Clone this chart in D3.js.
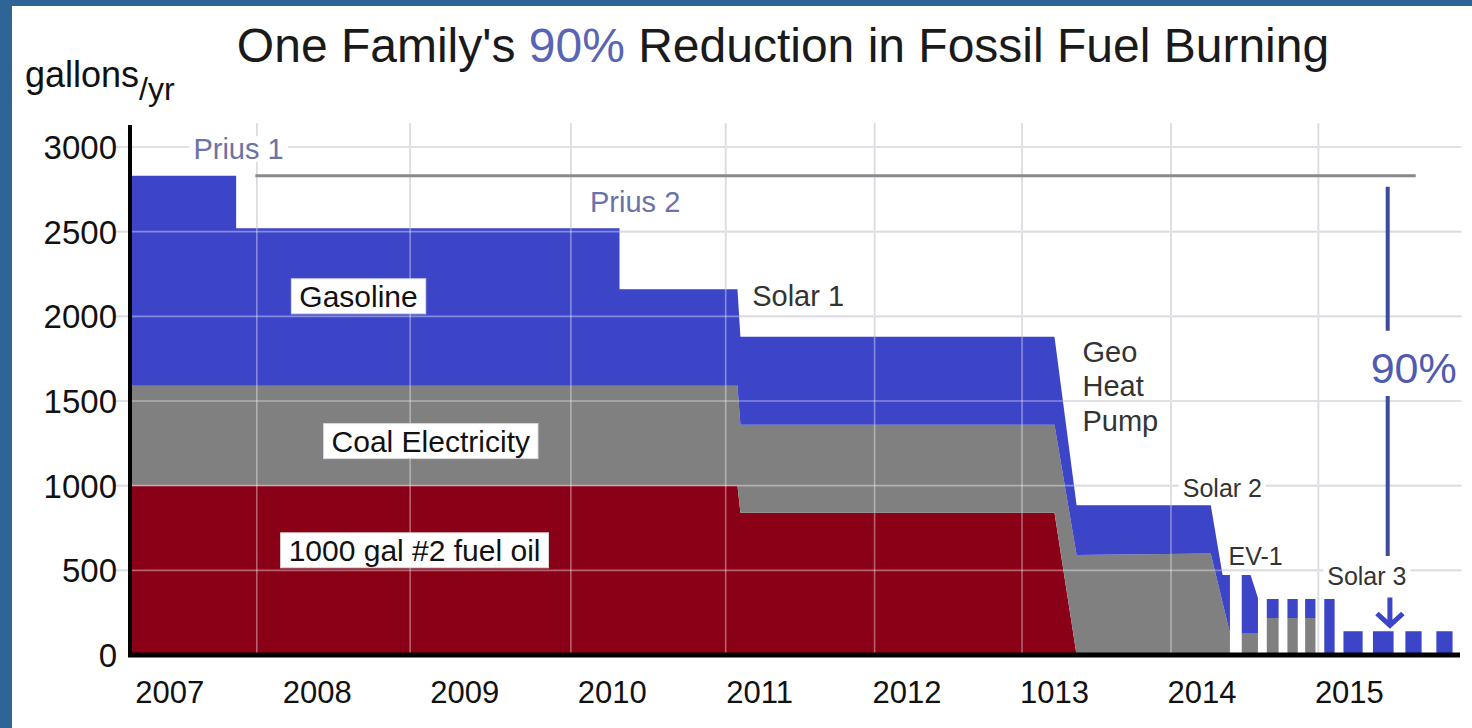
<!DOCTYPE html>
<html>
<head>
<meta charset="utf-8">
<script src="https://cdn.jsdelivr.net/npm/d3@7"></script>
<style>
  body { margin: 0; background: #fff; }
  svg { display: block; }
  text { font-family: "Liberation Sans", Arial, sans-serif; }
</style>
</head>
<body>
<div id="chart"></div>
<script>
// gallons per year; null time = a break between bars
const times = [
  2007.0, 2007.72, 2007.72, 2010.32, 2010.32, 2011.12, 2011.14, 2013.27, 2013.42,
  2014.33, 2014.41, 2014.46, null,
  2014.54, 2014.6, 2014.65, null,
  2014.71, 2014.79, null, 2014.85, 2014.92, null, 2014.97, 2015.04, null,
  2015.1, 2015.17, null,
  2015.23, 2015.36, null, 2015.43, 2015.57, null, 2015.65, 2015.76, null,
  2015.86, 2015.97,
];
const fuelOil = [
  1000, 1000, 1000, 1000, 1000, 1000, 840, 840, 0,
  0, 0, 0, null,
  0, 0, 0, null,
  0, 0, null, 0, 0, null, 0, 0, null,
  0, 0, null,
  0, 0, null, 0, 0, null, 0, 0, null,
  0, 0,
];
const coalElec = [
  590, 590, 590, 590, 590, 590, 520, 520, 590,
  600, 310, 130, null,
  130, 130, 130, null,
  218, 218, null, 218, 218, null, 218, 218, null,
  0, 0, null,
  0, 0, null, 0, 0, null, 0, 0, null,
  0, 0,
];
const gasoline = [
  1240, 1240, 930, 930, 570, 570, 520, 520, 295,
  285, 162, 342, null,
  342, 342, 206, null,
  112, 112, null, 112, 112, null, 112, 112, null,
  330, 330, null,
  140, 140, null, 140, 140, null, 140, 140, null,
  140, 140,
];

const seriesKeys = ["oil", "coal", "gas"];
const seriesColors = ["#8a0016", "#808080", "#3c44c8"];

const yTicks = [0, 500, 1000, 1500, 2000, 2500, 3000];
const yearTicks = [2007, 2008, 2009, 2010, 2011, 2012, 2013, 2014, 2015];
const yearLabels = ["2007", "2008", "2009", "2010", "2011", "2012", "1013", "2014", "2015"];
const gridYears = [2007.86, 2008.9, 2009.99, 2011.04, 2012.05, 2013.05, 2014.06, 2015.06];

// the 90% bracket: reference level and the span it covers
const refLevel = 2830;
const refStart = 2007.85;
const refEnd = 2015.72;

const notes = [
  { text: "Prius 1", t: 2007.43, v: 2990, size: 29, color: "#6a72a8" },
  { text: "Prius 2", t: 2010.12, v: 2680, size: 29, color: "#6a72a8" },
  { text: "Solar 1", t: 2011.22, v: 2120, size: 29, color: "#333" },
  { text: "Geo", t: 2013.46, v: 1790, size: 29, color: "#333" },
  { text: "Heat", t: 2013.46, v: 1590, size: 29, color: "#333" },
  { text: "Pump", t: 2013.46, v: 1385, size: 29, color: "#333" },
  { text: "Solar 2", t: 2014.14, v: 985, size: 25, color: "#333" },
  { text: "EV-1", t: 2014.45, v: 585, size: 25, color: "#333" },
  { text: "Solar 3", t: 2015.12, v: 467, size: 25, color: "#333" },
];
const boxes = [
  { text: "Gasoline", t: 2008.55, v: 2120 },
  { text: "Coal Electricity", t: 2009.04, v: 1265 },
  { text: "1000 gal #2 fuel oil", t: 2008.93, v: 620 },
];

let width = 1472;
let height = 728;
let svg, x, y;

window.onload = init;

function init() {
  svg = d3
    .select("#chart")
    .append("svg")
    .attr("width", width)
    .attr("height", height);

  svg.append("rect").attr("width", width).attr("height", height).attr("fill", "#fff");
  // blue frame on the left and top edges
  svg.append("rect").attr("width", 12).attr("height", height).attr("fill", "#2f6497");
  svg.append("rect").attr("width", width).attr("height", 6).attr("fill", "#2f6497");

  x = d3.scaleLinear().domain([2007, 2016]).range([130, 1457]);
  y = d3.scaleLinear().domain([0, 3000]).range([655, 147]);

  drawGrid("#c6c6cf", 1);

  const rows = times.map((t, i) => ({
    t: t,
    gap: t === null,
    oil: fuelOil[i] || 0,
    coal: coalElec[i] || 0,
    gas: gasoline[i] || 0,
  }));
  const stacked = d3.stack().keys(seriesKeys)(rows);
  const area = d3
    .area()
    .defined((d) => !d.data.gap)
    .x((d) => x(d.data.t))
    .y0((d) => y(d[0]))
    .y1((d) => y(d[1]));

  svg
    .append("g")
    .selectAll("path")
    .data(stacked)
    .enter()
    .append("path")
    .attr("d", area)
    .attr("fill", (d, i) => seriesColors[i]);

  // grid shows faintly through the coloured layers
  drawGrid("#ffffff", 0.38);

  // axes
  svg
    .append("line")
    .attr("x1", x(2007))
    .attr("x2", x(2007))
    .attr("y1", y(3130))
    .attr("y2", y(0) + 2)
    .attr("stroke", "#000")
    .attr("stroke-width", 4);
  svg
    .append("line")
    .attr("x1", x(2007) - 2)
    .attr("x2", x(2016) + 3)
    .attr("y1", y(0))
    .attr("y2", y(0))
    .attr("stroke", "#000")
    .attr("stroke-width", 5);

  svg
    .append("g")
    .selectAll("text")
    .data(yTicks)
    .enter()
    .append("text")
    .attr("x", x(2007) - 13)
    .attr("y", (d) => y(d))
    .attr("dy", "0.36em")
    .attr("text-anchor", "end")
    .attr("font-size", 33)
    .attr("fill", "#111")
    .text((d) => d);

  svg
    .append("g")
    .selectAll("text")
    .data(yearTicks)
    .enter()
    .append("text")
    .attr("x", (d) => x(d + 0.27))
    .attr("y", 692)
    .attr("dy", "0.36em")
    .attr("text-anchor", "middle")
    .attr("font-size", 31)
    .attr("fill", "#111")
    .text((d, i) => yearLabels[i]);

  // title and unit
  const title = svg
    .append("text")
    .attr("x", 783)
    .attr("y", 62)
    .attr("text-anchor", "middle")
    .attr("font-size", 48)
    .attr("fill", "#1a1a1a");
  title.append("tspan").text("One Family's ");
  title.append("tspan").attr("fill", "#5a64b4").text("90%");
  title.append("tspan").text(" Reduction in Fossil Fuel Burning");

  const unit = svg
    .append("text")
    .attr("x", 25)
    .attr("y", 87)
    .attr("font-size", 36)
    .attr("fill", "#111");
  unit.append("tspan").text("gallons");
  unit.append("tspan").attr("dy", 13).attr("font-size", 32).text("/yr");

  // reference line at the 2007 level
  svg
    .append("line")
    .attr("x1", x(refStart))
    .attr("x2", x(refEnd))
    .attr("y1", y(refLevel))
    .attr("y2", y(refLevel))
    .attr("stroke", "#8a8a8e")
    .attr("stroke-width", 3);

  // 90% drop marker
  const mx = x(2015.53);
  svg
    .append("line")
    .attr("x1", mx)
    .attr("x2", mx)
    .attr("y1", y(2765))
    .attr("y2", y(1915))
    .attr("stroke", "#3d4aa0")
    .attr("stroke-width", 4);
  svg
    .append("line")
    .attr("x1", mx)
    .attr("x2", mx)
    .attr("y1", y(1530))
    .attr("y2", y(585))
    .attr("stroke", "#3d4aa0")
    .attr("stroke-width", 4);
  svg
    .append("text")
    .attr("x", mx + 26)
    .attr("y", y(1700))
    .attr("dy", "0.36em")
    .attr("text-anchor", "middle")
    .attr("font-size", 43)
    .attr("fill", "#4f5ab0")
    .text("90%");

  // Solar 3 arrow
  const ax = x(2015.545);
  svg
    .append("path")
    .attr(
      "d",
      `M${ax},${y(340)} L${ax},${y(175)} M${ax - 13},${y(245)} L${ax},${y(175)} L${ax + 13},${y(245)}`,
    )
    .attr("fill", "none")
    .attr("stroke", "#3c44c8")
    .attr("stroke-width", 5);

  // plain annotations with a white backing that breaks the grid
  notes.forEach((n) => {
    const t = svg
      .append("text")
      .attr("x", x(n.t))
      .attr("y", y(n.v))
      .attr("dy", "0.36em")
      .attr("font-size", n.size)
      .attr("fill", n.color)
      .text(n.text);
    const b = t.node().getBBox();
    svg
      .insert("rect", () => t.node())
      .attr("x", b.x - 4)
      .attr("y", b.y + 3)
      .attr("width", b.width + 8)
      .attr("height", b.height - 6)
      .attr("fill", "#fff");
  });

  // boxed layer names
  boxes.forEach((n) => {
    const t = svg
      .append("text")
      .attr("x", x(n.t))
      .attr("y", y(n.v))
      .attr("dy", "0.36em")
      .attr("text-anchor", "middle")
      .attr("font-size", 30)
      .attr("fill", "#111")
      .text(n.text);
    const b = t.node().getBBox();
    svg
      .insert("rect", () => t.node())
      .attr("x", b.x - 8)
      .attr("y", b.y - 1)
      .attr("width", b.width + 16)
      .attr("height", b.height + 2)
      .attr("fill", "#fff")
      .attr("stroke", "#d8d8d8")
      .attr("stroke-width", 1);
  });
}

function drawGrid(color, opacity) {
  const grid = svg.append("g").attr("stroke", color).attr("stroke-opacity", opacity);
  grid
    .selectAll(".h")
    .data(yTicks.filter((d) => d > 0))
    .enter()
    .append("line")
    .attr("x1", x(2007) - 15)
    .attr("x2", x(2016.03))
    .attr("y1", (d) => y(d))
    .attr("y2", (d) => y(d))
    .attr("stroke-width", 1.6);
  grid
    .selectAll(".v")
    .data(gridYears)
    .enter()
    .append("line")
    .attr("x1", (d) => x(d))
    .attr("x2", (d) => x(d))
    .attr("y1", y(3140))
    .attr("y2", y(0))
    .attr("stroke-width", 1.6);
}
</script>
</body>
</html>
